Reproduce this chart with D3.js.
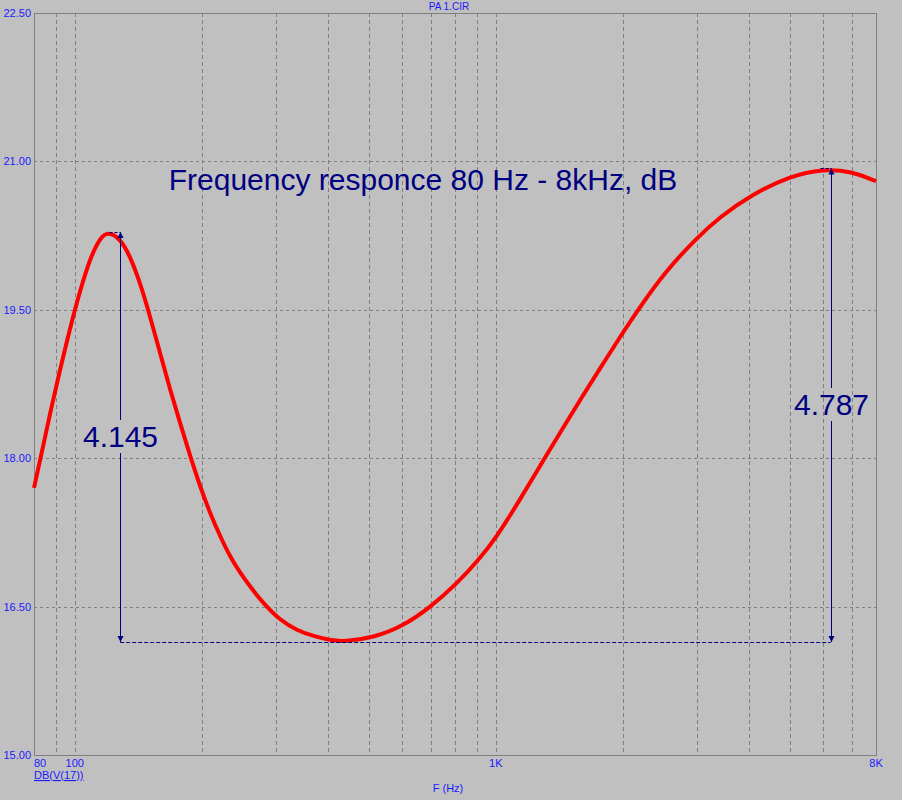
<!DOCTYPE html>
<html lang="en">
<head>
  <meta charset="UTF-8">
  <title>PA 1.CIR</title>
  <style>
    body { margin: 0; background: #c0c0c0; }
    svg { display: block; font-family: Arial, "Liberation Sans", sans-serif; }
    .tick-label { fill: #1a1aff; font-size: 11px; }
  </style>
</head>
<body>
  <div class="container"></div>
  <script src="https://d3js.org/d3.v7.min.js"></script>
  <script>
    // frequency response (Hz, dB)
    const freq = [80, 84.2, 87.3, 92.2, 97.5, 103, 108.7, 114.8, 120.1, 128.2, 135.4, 143, 151, 159.5, 168.5,
      178, 188, 198.6, 209.7, 221.5, 234, 247.2, 261.1, 280.8, 307.7, 337.1, 369.3, 404.6, 435.2, 516.2,
      600, 698, 812, 909, 1000, 1141, 1277, 1431, 1603, 1794, 2010, 2209, 2521, 2989, 3410, 4041, 4976,
      6010, 6990, 8000];
    const gain = [17.70, 18.13, 18.45, 18.89, 19.32, 19.70, 20.02, 20.23, 20.29, 20.22, 20.04, 19.77, 19.43, 19.06, 18.69,
      18.35, 18.02, 17.71, 17.44, 17.21, 17.00, 16.84, 16.70, 16.53, 16.36, 16.26, 16.20, 16.16, 16.145, 16.19,
      16.30, 16.49, 16.74, 16.97, 17.19, 17.58, 17.93, 18.28, 18.62, 18.95, 19.28, 19.54, 19.88, 20.22, 20.44, 20.66, 20.85,
      20.925, 20.90, 20.80];

    // axis ticks
    const yTicks = [15, 16.5, 18, 19.5, 21, 22.5];
    const xGrid = [90, 100, 200, 300, 400, 500, 600, 700, 800, 900, 1000, 2000, 3000, 4000, 5000, 6000, 7000];
    const xLabels = [[80, '80'], [100, '100'], [1000, '1K'], [8000, '8K']];

    // dimension markers
    const markFreq = [128.2, 6250];
    const markBase = 16.142;
    const markDelta = [4.145, 4.787];
    const markText = ['4.145', '4.787'];

    const W = 902, H = 800;
    const pL = 34, pR = 876, pT = 13, pB = 755;

    const x = d3.scaleLog().domain([80, 8000]).range([pL, pR]);
    const y = d3.scaleLinear().domain([15, 22.5]).range([pB, pT]);

    const svg = d3.select('.container')
      .append('svg')
      .attr('width', W)
      .attr('height', H);

    svg.append('rect')
      .attr('width', W).attr('height', H)
      .attr('fill', '#c0c0c0');

    // grid
    svg.append('g')
      .selectAll('line')
      .data(xGrid)
      .enter()
      .append('line')
      .attr('x1', d => Math.round(x(d)) + 0.5)
      .attr('x2', d => Math.round(x(d)) + 0.5)
      .attr('y1', pT)
      .attr('y2', pB)
      .attr('stroke', '#808080')
      .attr('stroke-dasharray', '4,3');

    svg.append('g')
      .selectAll('line')
      .data(yTicks.slice(1, -1))
      .enter()
      .append('line')
      .attr('x1', pL)
      .attr('x2', pR)
      .attr('y1', d => Math.round(y(d)) + 0.5)
      .attr('y2', d => Math.round(y(d)) + 0.5)
      .attr('stroke', '#808080')
      .attr('stroke-dasharray', '3,3');

    // frame
    svg.append('rect')
      .attr('x', pL + 0.5)
      .attr('y', pT + 0.5)
      .attr('width', pR - pL)
      .attr('height', pB - pT)
      .attr('fill', 'none')
      .attr('stroke', '#808080');

    // y labels
    svg.append('g')
      .selectAll('text')
      .data(yTicks)
      .enter()
      .append('text')
      .attr('class', 'tick-label')
      .attr('x', 31)
      .attr('y', d => y(d) + 4)
      .attr('text-anchor', 'end')
      .text(d => d.toFixed(2));

    // x labels
    svg.append('g')
      .selectAll('text')
      .data(xLabels)
      .enter()
      .append('text')
      .attr('class', 'tick-label')
      .attr('x', d => x(d[0]))
      .attr('y', 767)
      .attr('text-anchor', (d, i) => i == 0 ? 'start' : 'middle')
      .text(d => d[1]);

    svg.append('text')
      .attr('class', 'tick-label')
      .attr('x', pL)
      .attr('y', 779)
      .style('text-decoration', 'underline')
      .text('DB(V(17))');

    svg.append('text')
      .attr('class', 'tick-label')
      .attr('x', 448)
      .attr('y', 792)
      .attr('text-anchor', 'middle')
      .text('F (Hz)');

    svg.append('text')
      .attr('class', 'tick-label')
      .attr('x', 449)
      .attr('y', 10)
      .attr('text-anchor', 'middle')
      .style('font-size', '10px')
      .text('PA 1.CIR');

    // curve
    const pts = freq.map((f, i) => [f, gain[i]]);
    const line = d3.line()
      .x(d => x(d[0]))
      .y(d => y(d[1]))
      .curve(d3.curveBasis);

    svg.append('path')
      .datum(pts)
      .attr('d', line)
      .attr('fill', 'none')
      .attr('stroke', '#ff0000')
      .attr('stroke-width', 4)
      .attr('stroke-linejoin', 'round');

    // dimension markers
    const navy = '#000080';
    const yb = y(markBase);

    svg.append('line')
      .attr('x1', x(markFreq[0]))
      .attr('x2', x(markFreq[1]))
      .attr('y1', Math.round(yb) + 0.5)
      .attr('y2', Math.round(yb) + 0.5)
      .attr('stroke', navy)
      .attr('stroke-dasharray', '4,2');

    const labelY = [436, 404];

    markFreq.forEach((f, i) => {
      const xx = Math.round(x(f)) + 0.5;
      const yt = y(markBase + markDelta[i]);
      const g = svg.append('g');

      g.append('line')
        .attr('x1', xx).attr('x2', xx)
        .attr('y1', yt).attr('y2', yb)
        .attr('stroke', navy);

      // short dashed tick at the top
      g.append('line')
        .attr('x1', xx - 11).attr('x2', xx)
        .attr('y1', Math.round(yt) + 0.5).attr('y2', Math.round(yt) + 0.5)
        .attr('stroke', navy)
        .attr('stroke-dasharray', '3,2');

      // arrow heads
      g.append('path')
        .attr('d', `M${xx},${yt} L${xx - 3},${yt + 6} L${xx + 3},${yt + 6} Z`)
        .attr('fill', navy);
      g.append('path')
        .attr('d', `M${xx},${yb} L${xx - 3},${yb - 6} L${xx + 3},${yb - 6} Z`)
        .attr('fill', navy);

      const t = g.append('text')
        .attr('x', xx)
        .attr('y', labelY[i] + 11)
        .attr('text-anchor', 'middle')
        .attr('fill', navy)
        .style('font-size', '30px')
        .text(markText[i]);

      const bb = t.node().getBBox();
      g.insert('rect', 'text')
        .attr('x', xx - 3)
        .attr('y', bb.y)
        .attr('width', 6)
        .attr('height', bb.height)
        .attr('fill', '#c0c0c0');
    });

    // title
    svg.append('text')
      .attr('x', 423)
      .attr('y', 190)
      .attr('text-anchor', 'middle')
      .attr('fill', navy)
      .style('font-size', '30px')
      .text('Frequency responce 80 Hz - 8kHz, dB');
  </script>
</body>
</html>
